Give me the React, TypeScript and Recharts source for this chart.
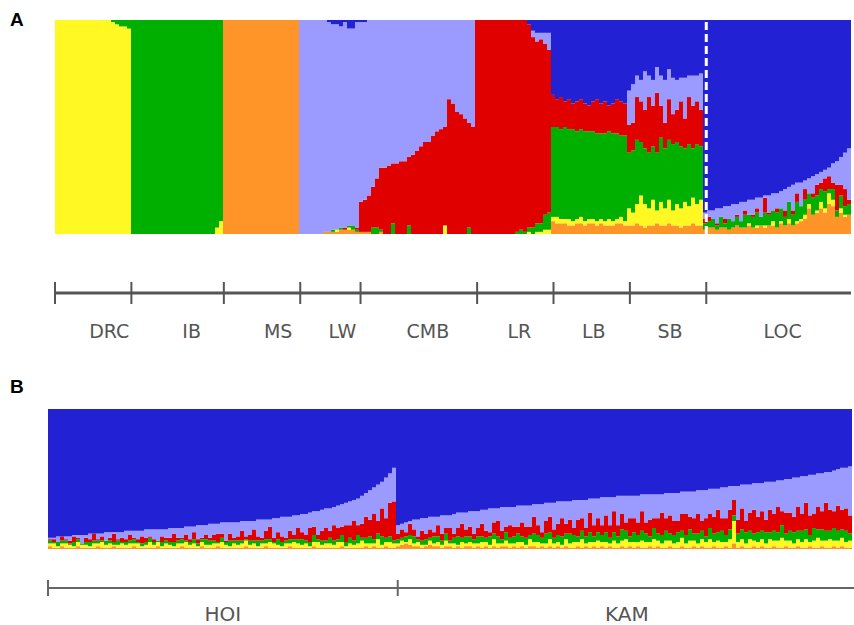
import { BarChart, Bar, XAxis, YAxis, ReferenceLine } from "recharts"

// ancestry colours (K = 6)
const C = {
  orange: "#ff9428",
  yellow: "#fff823",
  green: "#00b000",
  red: "#e00000",
  lilac: "#9a9aff",
  blue: "#2222d4",
}

// ---------- panel A: reference populations (percent per individual) ----------
const popNamesA = ["DRC", "IB", "MS", "LW", "CMB", "LR", "LB", "SB", "LOC"]

const drcYellow = [100, 100, 100, 100, 100, 100, 100, 100, 100, 100, 100, 100, 100, 100, 99, 98, 97, 97, 96]
const drcGreen = [0, 0, 0, 0, 0, 0, 0, 0, 0, 0, 0, 0, 0, 0, 1, 2, 3, 3, 4]

const ibGreen = [100, 100, 100, 100, 100, 100, 100, 100, 100, 100, 100, 100, 100, 100, 100, 100, 100, 100, 100, 100, 100, 97, 94]
const ibYellow = [0, 0, 0, 0, 0, 0, 0, 0, 0, 0, 0, 0, 0, 0, 0, 0, 0, 0, 0, 0, 0, 3, 6]

const msOrange = [100, 100, 100, 100, 100, 100, 100, 100, 100, 100, 100, 100, 100, 100, 100, 100, 100, 100, 100]

const lwOrange = [0, 0, 0, 0, 0, 0, 1, 1, 1, 1, 2, 2, 2, 2, 1]
const lwYellow = [0, 0, 0, 0, 0, 0, 0, 0, 0, 1, 0, 0, 1, 0, 0]
const lwGreen = [0, 0, 0, 0, 0, 0, 0, 0, 1, 0, 1, 0, 1, 2, 1]
const lwRed = [0, 0, 0, 0, 0, 0, 0, 0, 0, 0, 0, 1, 0, 0, 1]
const lwBlue = [0, 0, 0, 0, 0, 0, 0, 1, 2, 2, 3, 1, 4, 4, 1]

const cmbOrange = [1, 1, 1, 0, 0, 1, 0, 0, 0, 0, 0, 0, 0, 0, 0, 0, 0, 0, 0, 0, 0, 0, 0, 0, 0, 0, 0, 0, 0]
const cmbYellow = [0, 0, 0, 0, 0, 0, 0, 0, 0, 0, 0, 0, 0, 0, 0, 0, 0, 0, 0, 0, 0, 4, 0, 0, 0, 0, 0, 0, 0]
const cmbGreen = [0, 0, 0, 3, 3, 1, 0, 0, 5, 0, 0, 0, 4, 0, 0, 0, 0, 0, 0, 0, 0, 0, 0, 0, 0, 0, 0, 3, 0]
const cmbRed = [14, 15, 17, 19, 23, 29, 31, 32, 28, 33, 34, 34, 32, 37, 39, 41, 43, 43, 46, 48, 49, 46, 63, 61, 57, 56, 54, 49, 50]
const cmbBlue = [1, 1, 0, 0, 0, 0, 0, 0, 0, 0, 0, 0, 0, 0, 0, 0, 0, 0, 0, 0, 0, 0, 0, 0, 0, 0, 0, 0, 0]

const lrRed = [100, 100, 100, 100, 100, 100, 100, 100, 100, 100, 99, 98, 99, 95, 89, 85, 86, 80, 76]
const lrGreen = [0, 0, 0, 0, 0, 0, 0, 0, 0, 0, 1, 2, 1, 2, 3, 4, 4, 7, 8]
const lrYellow = [0, 0, 0, 0, 0, 0, 0, 0, 0, 0, 0, 0, 0, 1, 0, 1, 1, 2, 2]
const lrBlue = [0, 0, 0, 0, 0, 0, 0, 0, 0, 0, 0, 0, 0, 2, 5, 6, 6, 6, 6]

const lbOrange = [6, 5, 5, 5, 4, 4, 5, 5, 4, 5, 5, 4, 5, 4, 4, 4, 5, 5, 4]
const lbYellow = [2, 3, 2, 2, 3, 2, 2, 3, 2, 2, 2, 2, 2, 2, 3, 2, 2, 3, 2]
const lbGreen = [42, 42, 42, 43, 42, 43, 41, 41, 42, 41, 41, 41, 40, 41, 41, 41, 40, 38, 40]
const lbRed = [15, 13, 15, 12, 14, 12, 14, 14, 13, 12, 14, 16, 14, 15, 12, 14, 16, 16, 15]
const lbBlue = [35, 37, 36, 38, 37, 39, 38, 37, 39, 40, 38, 37, 39, 38, 40, 39, 37, 38, 39]

const sbOrange = [4, 4, 5, 4, 3, 4, 4, 5, 4, 4, 5, 4, 4, 3, 4, 4, 5, 4, 4]
const sbYellow = [8, 6, 9, 14, 11, 8, 12, 6, 11, 8, 11, 7, 10, 9, 11, 9, 12, 10, 12]
const sbGreen = [26, 29, 30, 25, 26, 26, 25, 27, 30, 28, 28, 31, 29, 29, 25, 29, 23, 28, 25]
const sbRed = [13, 13, 20, 19, 18, 26, 19, 28, 15, 12, 19, 14, 15, 21, 14, 22, 20, 20, 17]
const sbBlue = [33, 30, 26, 28, 24, 26, 28, 22, 26, 28, 23, 27, 28, 27, 27, 26, 26, 26, 25]

const locOrange = [2, 3, 3, 2, 3, 3, 2, 3, 4, 3, 3, 4, 3, 3, 4, 3, 4, 4, 3, 5, 4, 5, 4, 5, 6, 7, 12, 9, 10, 12, 10, 14, 13, 8, 10, 8, 9]
const locYellow = [0, 0, 0, 0, 0, 0, 0, 0, 0, 0, 0, 1, 0, 1, 0, 1, 0, 2, 0, 1, 0, 2, 0, 1, 1, 2, 2, 0, 1, 3, 2, 5, 3, 0, 2, 1, 0]
const locGreen = [3, 3, 4, 2, 5, 2, 5, 3, 4, 3, 6, 4, 5, 6, 4, 6, 5, 5, 7, 6, 4, 8, 5, 9, 6, 7, 5, 8, 7, 6, 8, 2, 5, 3, 6, 4, 5]
const locRed = [2, 2, 0, 1, 0, 2, 0, 0, 1, 0, 2, 0, 1, 2, 0, 7, 1, 0, 2, 0, 3, 0, 2, 4, 0, 5, 0, 2, 5, 3, 6, 6, 3, 12, 5, 8, 2]
const locBlue = [90, 89, 89, 88, 88, 87, 87, 86, 86, 85, 85, 84, 84, 83, 83, 82, 82, 81, 81, 80, 79, 78, 77, 76, 76, 75, 74, 73, 72, 71, 70, 69, 67, 66, 64, 62, 60]

// ---------- panel B: HOI and KAM ----------
const popNamesB = ["HOI", "KAM"]

const hoiBlue = [
  92, 92, 91, 91, 91, 91, 90, 90, 90, 90, 89, 89, 89, 89, 88, 88, 88, 88, 88, 87,
  87, 87, 87, 87, 86, 86, 86, 86, 86, 86, 85, 85, 85, 85, 84, 84, 84, 83, 83, 83,
  82, 82, 82, 81, 81, 81, 81, 81, 80, 80, 80, 80, 79, 79, 79, 79, 78, 78, 77, 77,
  77, 76, 76, 75, 75, 74, 73, 73, 72, 71, 71, 70, 69, 68, 67, 66, 65, 64, 62, 60,
  58, 56, 54, 52, 49, 46, 42,
]
const hoiRed = [
  1, 2, 0, 3, 1, 2, 4, 1, 0, 3, 2, 5, 1, 3, 0, 2, 6, 1, 3, 2,
  4, 1, 2, 5, 3, 1, 2, 0, 4, 2, 3, 6, 2, 1, 4, 2, 5, 3, 1, 3,
  2, 4, 6, 3, 1, 5, 2, 3, 7, 2, 4, 8, 3, 2, 6, 9, 3, 5, 4, 2,
  6, 3, 8, 5, 4, 10, 6, 3, 7, 9, 5, 11, 8, 6, 12, 9, 14, 7, 10, 15,
  12, 18, 9, 20, 14, 24, 28,
]
const hoiGreen = [
  2, 1, 3, 2, 2, 1, 3, 2, 1, 2, 3, 2, 2, 1, 3, 2, 2, 3, 1, 2,
  2, 3, 1, 2, 2, 3, 2, 1, 3, 2, 2, 3, 2, 3, 1, 2, 3, 2, 2, 4,
  3, 2, 1, 3, 2, 4, 2, 3, 2, 1, 3, 2, 4, 2, 3, 2, 1, 4, 3, 2,
  3, 2, 3, 4, 2, 3, 5, 2, 3, 2, 4, 3, 2, 5, 3, 4, 3, 6, 2, 4,
  5, 3, 4, 6, 3, 4, 2,
]
const hoiYellow = [
  2, 3, 1, 2, 3, 2, 1, 3, 2, 2, 1, 3, 2, 4, 2, 3, 1, 2, 3, 2,
  3, 2, 3, 1, 2, 4, 2, 3, 1, 3, 2, 1, 3, 2, 4, 2, 3, 1, 3, 2,
  2, 3, 2, 4, 2, 1, 3, 2, 3, 4, 2, 3, 1, 3, 2, 4, 3, 2, 1, 3,
  2, 4, 3, 2, 3, 1, 3, 4, 2, 3, 3, 2, 4, 3, 1, 3, 2, 3, 5, 2,
  3, 2, 6, 2, 3, 4, 3,
]
const hoiOrange = [
  2, 1, 1, 2, 1, 1, 1, 2, 1, 1, 1, 1, 2, 1, 1, 1, 2, 1, 1, 1,
  1, 2, 1, 1, 1, 1, 1, 2, 1, 1, 1, 1, 1, 2, 1, 1, 1, 1, 2, 1,
  1, 1, 2, 1, 1, 1, 1, 1, 1, 2, 1, 1, 1, 1, 2, 1, 1, 1, 1, 1,
  2, 1, 1, 1, 1, 1, 2, 1, 1, 1, 1, 1, 1, 2, 1, 1, 1, 1, 1, 2,
  1, 2, 1, 1, 2, 1, 1,
]

const kamBlue = [
  83, 82, 81, 80, 79, 79, 78, 78, 77, 77, 77, 76, 76, 76, 75, 74, 74, 74, 73, 73,
  73, 72, 72, 71, 71, 71, 70, 70, 70, 70, 69, 69, 69, 69, 68, 68, 68, 67, 67, 67,
  66, 66, 66, 66, 65, 65, 65, 65, 64, 64, 64, 63, 63, 63, 63, 62, 62, 62, 62, 62,
  62, 61, 61, 61, 61, 61, 61, 60, 60, 60, 60, 59, 59, 59, 59, 58, 58, 58, 57, 57,
  57, 56, 56, 55, 55, 55, 54, 54, 54, 53, 53, 53, 52, 52, 52, 51, 51, 50, 50, 49,
  49, 48, 48, 47, 47, 46, 46, 45, 45, 44, 43, 42, 42, 41,
]
const kamRed = [
  4, 6, 3, 8, 5, 2, 7, 4, 6, 3, 8, 5, 4, 9, 3, 6, 10, 5, 7, 4,
  6, 9, 5, 3, 8, 11, 6, 4, 9, 7, 5, 10, 8, 6, 12, 7, 4, 9, 11, 6,
  8, 13, 7, 10, 5, 12, 9, 6, 14, 8, 10, 7, 12, 9, 15, 8, 11, 6, 13, 10,
  9, 14, 8, 12, 7, 11, 16, 9, 13, 10, 8, 12, 15, 9, 11, 14, 7, 13, 10, 12,
  16, 9, 12, 14, 11, 10, 15, 8, 13, 17, 11, 14, 9, 16, 12, 18, 10, 15, 13, 11,
  17, 12, 19, 14, 10, 16, 13, 20, 15, 12, 18, 14, 16, 13,
]
const kamGreen = [
  3, 2, 4, 3, 5, 2, 3, 4, 2, 5, 4, 3, 5, 2, 4, 6, 3, 5, 4, 3,
  5, 4, 3, 6, 4, 5, 3, 6, 4, 5, 6, 4, 5, 3, 6, 5, 4, 7, 5, 4,
  5, 6, 4, 7, 5, 4, 6, 5, 7, 4, 6, 5, 7, 4, 6, 5, 8, 6, 4, 7,
  5, 7, 6, 4, 8, 5, 6, 7, 5, 6, 7, 5, 6, 8, 5, 7, 6, 4, 8, 6,
  6, 8, 5, 7, 4, 6, 7, 8, 6, 5, 7, 6, 8, 5, 7, 6, 9, 5, 7, 8,
  6, 8, 7, 5, 9, 6, 8, 7, 6, 9, 7, 6, 8, 5,
]
const kamYellow = [
  2, 3, 1, 4, 2, 3, 2, 1, 3, 2, 3, 2, 4, 2, 3, 1, 4, 2, 3, 3,
  2, 4, 3, 2, 5, 3, 2, 4, 3, 2, 4, 3, 2, 5, 3, 4, 2, 3, 5, 3,
  3, 2, 5, 3, 4, 3, 6, 2, 4, 3, 5, 3, 4, 2, 5, 3, 4, 6, 3, 4,
  3, 5, 4, 3, 6, 4, 3, 5, 4, 3, 4, 6, 3, 5, 4, 3, 5, 4, 6, 3,
  5, 4, 3, 6, 16, 4, 5, 3, 6, 4, 4, 5, 3, 6, 4, 5, 7, 4, 5, 3,
  5, 4, 6, 3, 5, 7, 4, 5, 6, 4, 5, 6, 4, 5,
]
const kamOrange = [
  2, 3, 4, 3, 2, 2, 1, 2, 3, 2, 2, 1, 2, 2, 1, 2, 1, 2, 2, 1,
  2, 1, 2, 1, 2, 1, 2, 2, 1, 2, 1, 2, 1, 2, 2, 1, 2, 1, 2, 1,
  2, 1, 2, 1, 1, 2, 1, 2, 1, 2, 1, 2, 1, 2, 1, 1, 2, 1, 2, 1,
  2, 1, 1, 2, 1, 2, 1, 1, 2, 1, 1, 2, 1, 1, 2, 1, 2, 1, 1, 2,
  1, 1, 2, 1, 4, 1, 2, 1, 1, 2, 1, 2, 1, 1, 2, 1, 1, 2, 1, 1,
  2, 1, 1, 2, 1, 1, 2, 1, 1, 2, 1, 2, 1, 1,
]

type Pop = { o?: number[]; y?: number[]; g?: number[]; r?: number[]; b?: number[] }

const popsA: Pop[] = [
  { y: drcYellow, g: drcGreen },
  { y: ibYellow, g: ibGreen },
  { o: msOrange },
  { o: lwOrange, y: lwYellow, g: lwGreen, r: lwRed, b: lwBlue },
  { o: cmbOrange, y: cmbYellow, g: cmbGreen, r: cmbRed, b: cmbBlue },
  { y: lrYellow, g: lrGreen, r: lrRed, b: lrBlue },
  { o: lbOrange, y: lbYellow, g: lbGreen, r: lbRed, b: lbBlue },
  { o: sbOrange, y: sbYellow, g: sbGreen, r: sbRed, b: sbBlue },
  { o: locOrange, y: locYellow, g: locGreen, r: locRed, b: locBlue },
]
const popsB: Pop[] = [
  { o: hoiOrange, y: hoiYellow, g: hoiGreen, r: hoiRed, b: hoiBlue },
  { o: kamOrange, y: kamYellow, g: kamGreen, r: kamRed, b: kamBlue },
]

// one row per individual, lilac is what is left of the 100 %
function buildRows(pops: Pop[]) {
  const rows: any[] = []
  const bounds: number[] = [0]
  pops.forEach((p) => {
    const n = Math.max(...[p.o, p.y, p.g, p.r, p.b].map((a) => (a ? a.length : 0)))
    for (let i = 0; i < n; i++) {
      const orange = p.o?.[i] ?? 0
      const yellow = p.y?.[i] ?? 0
      const green = p.g?.[i] ?? 0
      const red = p.r?.[i] ?? 0
      const blue = p.b?.[i] ?? 0
      const lilac = Math.max(0, 100 - orange - yellow - green - red - blue)
      rows.push({ id: rows.length, orange, yellow, green, red, lilac, blue })
    }
    bounds.push(rows.length)
  })
  return { rows, bounds }
}

const A = buildRows(popsA)
const B = buildRows(popsB)

// label anchors (in individual units) as placed in the original figure
const labelAtA = [13.5, 34, 55.5, 71.5, 92.75, 115.5, 134, 153, 181]
const labelAtB = [43.5, 144]

const series = ["orange", "yellow", "green", "red", "lilac", "blue"] as const

function makeTick(cfg: {
  bounds: number[]
  labelAt: number[]
  names: string[]
  lineDy: number
  tickHalf: number
  labelDy: number
  plotW: number
  lineW: number
  tickW: number
  stroke: string
  fontSize: number
}) {
  return function PopTick(props: any) {
    const { x, y, payload } = props
    const v = payload.value
    const bi = cfg.bounds.indexOf(v)
    if (bi >= 0) {
      return (
        <g>
          {bi === 0 && (
            <line x1={x} x2={x + cfg.plotW} y1={y + cfg.lineDy} y2={y + cfg.lineDy} stroke={cfg.stroke} strokeWidth={cfg.lineW} />
          )}
          <line x1={x} x2={x} y1={y + cfg.lineDy - cfg.tickHalf} y2={y + cfg.lineDy + cfg.tickHalf} stroke={cfg.stroke} strokeWidth={cfg.tickW} />
        </g>
      )
    }
    const li = cfg.labelAt.indexOf(v)
    return (
      <text x={x} y={y + cfg.labelDy} dy="0.71em" textAnchor="middle" fill="#555" fontSize={cfg.fontSize} fontFamily="DejaVu Sans">
        {cfg.names[li]}
      </text>
    )
  }
}

const TickA = makeTick({
  bounds: A.bounds, labelAt: labelAtA, names: popNamesA,
  lineDy: 59, tickHalf: 11, labelDy: 91, plotW: 796, lineW: 3, tickW: 2, stroke: "#555", fontSize: 19,
})
const TickB = makeTick({
  bounds: B.bounds.slice(0, 2), labelAt: labelAtB, names: popNamesB,
  lineDy: 39, tickHalf: 8, labelDy: 58, plotW: 806, lineW: 2, tickW: 2, stroke: "#666", fontSize: 20,
})

function Panel(props: {
  rows: any[]
  ticks: number[]
  total: number
  width: number
  height: number
  margin: any
  axisH: number
  tick: any
  dashAt?: number
}) {
  return (
    <BarChart width={props.width} height={props.height} data={props.rows} margin={props.margin} barCategoryGap={0} barGap={0}>
      <XAxis dataKey="id" hide height={0} />
      <XAxis
        xAxisId="pop"
        type="number"
        domain={[0, props.total]}
        ticks={props.ticks}
        interval={0}
        height={props.axisH}
        axisLine={false}
        tickLine={false}
        tickSize={0}
        tickMargin={0}
        tick={props.tick}
        allowDecimals
      />
      <YAxis hide domain={[0, 100]} allowDataOverflow />
      {series.map((s) => (
        <Bar key={s} dataKey={s} stackId="q" fill={C[s]} isAnimationActive={false} />
      ))}
      {props.dashAt !== undefined && (
        <ReferenceLine xAxisId="pop" x={props.dashAt} stroke="#ffffff" strokeWidth={3} strokeDasharray="8 4" />
      )}
    </BarChart>
  )
}

export default function App() {
  const ticksA = [...A.bounds, ...labelAtA].sort((a, b) => a - b)
  const ticksB = [...B.bounds.slice(0, 2), ...labelAtB].sort((a, b) => a - b)
  const letter = { position: "absolute" as const, left: 10, fontFamily: "Liberation Sans, Arial, sans-serif", fontWeight: 700, fontSize: 19, lineHeight: 1 }
  return (
    <div style={{ position: "absolute", left: 0, top: 0, width: 854, height: 625, background: "#fff", overflow: "hidden" }}>
      <div style={{ position: "absolute", left: 0, top: 0 }}>
        <Panel
          rows={A.rows}
          ticks={ticksA}
          total={A.rows.length}
          width={854}
          height={380}
          margin={{ top: 20, right: 3, left: 55, bottom: 17 }}
          axisH={129}
          tick={TickA}
          dashAt={A.bounds[8]}
        />
      </div>
      <div style={{ position: "absolute", left: 0, top: 380 }}>
        <Panel
          rows={B.rows}
          ticks={ticksB}
          total={B.rows.length}
          width={854}
          height={245}
          margin={{ top: 29, right: 2, left: 48, bottom: 0 }}
          axisH={76}
          tick={TickB}
        />
      </div>
      <div style={{ ...letter, top: 10 }}>A</div>
      <div style={{ ...letter, top: 377 }}>B</div>
    </div>
  )
}
